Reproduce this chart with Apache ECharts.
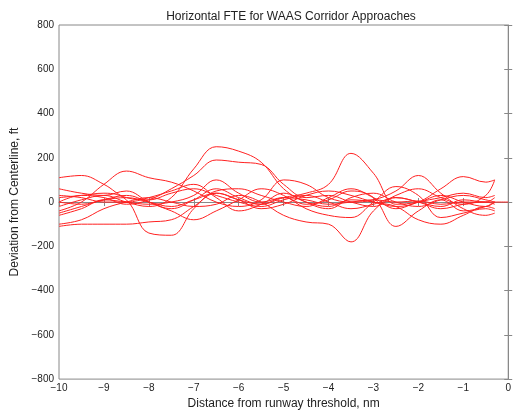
<!DOCTYPE html>
<html>
<head>
<meta charset="utf-8">
<script src="https://cdn.jsdelivr.net/npm/echarts@6/dist/echarts.min.js"></script>
<style>
  html, body { margin: 0; padding: 0; background: #fff; }
  #main { width: 514px; height: 415px; }
</style>
</head>
<body>
<div id="main"></div>
<script>
// distance from runway threshold (nm) shared by every run
var xs = [-10, -9.5, -9, -8.5, -8, -7.5, -7, -6.5, -6, -5.5, -5, -4.5, -4, -3.5, -3, -2.5, -2, -1.5, -1, -0.5, -0.3];

// deviation from centerline (ft), one array per approach
var run1 = [110, 120, 80, 20, 10, 40, 60, 30, 0, -20, 10, 30, 0, -30, -10, 20, 0, -20, 10, 0, 20];
var run2 = [-20, 10, 30, 0, -20, 20, 150, 250, 230, 180, 60, 0, -30, 20, 40, 0, -20, 10, 30, 10, 0];
var run3 = [0, 30, 20, -10, 10, 60, 120, 190, 180, 170, 80, 20, 30, 0, -20, 30, 60, 20, -10, 30, 100];
var run4 = [-50, -20, 10, 30, 0, -30, 10, 60, 20, -10, 20, 40, 80, 220, 130, -10, 0, 30, 0, -20, 0];
var run5 = [-100, -80, -30, 0, 20, 0, -20, -10, 30, 0, -60, -90, -100, -180, -40, 20, 0, -30, -10, 0, -10];
var run6 = [20, 30, 40, 10, -140, -150, -30, 50, 60, 30, 0, -20, 20, 60, 20, -30, 0, 20, 40, 20, 30];
var run7 = [-110, -100, -100, -100, -90, -80, -20, 40, 10, -30, -10, 30, 50, 30, 0, -20, -80, -100, -60, -20, -30];
var run8 = [-40, 0, 80, 140, 110, 90, 50, 0, -20, 10, 100, 80, 20, 0, 10, 50, 120, 40, -30, -60, -50];
var run9 = [30, 20, 0, 0, 20, 50, 80, 20, -40, -10, 40, 0, -20, 10, 0, -20, 0, 60, 115, 90, 100];
var run10 = [-60, -30, 10, 0, -10, 0, 30, 100, 40, 0, 20, -10, 10, 50, 20, -110, -40, 10, -40, -20, 0];
var run11 = [0, -10, 10, 20, 0, -20, 10, 40, 10, -10, 20, 10, -10, 0, 10, 0, 5, -10, 0, 0, 0];
var run12 = [60, 40, 30, 50, 0, -40, -80, -40, 10, 60, 30, -30, -60, -70, 0, 70, 30, -70, -50, -30, -40];

var runs = [run1, run2, run3, run4, run5, run6, run7, run8, run9, run10, run11, run12];

var xTicks = [-10, -9, -8, -7, -6, -5, -4, -3, -2, -1, 0];
var yTicks = [-800, -600, -400, -200, 0, 200, 400, 600, 800];

var series = runs.map(function (ys, i) {
  var pts = xs.map(function (x, j) { return [x, ys[j]]; });
  // one run keeps flying along the centreline to the threshold
  if (i === 10) pts.push([0, 0]);
  return {
    type: 'line',
    data: pts,
    smooth: 0.4,
    symbol: 'none',
    lineStyle: { color: '#ff2020', width: 1 },
    silent: true
  };
});

var chart = echarts.init(document.getElementById('main'));
var tickStyle = { inside: true, length: 4, lineStyle: { color: '#888' } };
var txt = { color: '#222', fontFamily: 'Liberation Sans' };
chart.setOption({
  animation: false,
  title: {
    text: 'Horizontal FTE for WAAS Corridor Approaches',
    left: 286, top: 6, textAlign: 'center',
    textStyle: { fontSize: 12, fontWeight: 'normal', color: '#222', fontFamily: 'Liberation Sans' }
  },
  grid: { left: 59, right: 2, top: 25, bottom: 32, show: true, borderColor: '#888', borderWidth: 1 },
  xAxis: [{
    type: 'value', min: -10, max: 0, interval: 1,
    name: 'Distance from runway threshold, nm',
    nameLocation: 'middle', nameGap: 15,
    nameTextStyle: Object.assign({ fontSize: 12 }, txt),
    axisLine: { lineStyle: { color: '#888' } },
    axisTick: tickStyle,
    splitLine: { show: false },
    axisLabel: Object.assign({ fontSize: 10, margin: 4,
      formatter: function (v) { return xTicks.indexOf(v) >= 0 ? String(v).replace('-', '\u2212') : ''; } }, txt)
  }, {
    type: 'value', min: -10, max: 0, interval: 1, position: 'top',
    axisLine: { show: false }, axisTick: tickStyle, axisLabel: { show: false }, splitLine: { show: false }
  }],
  yAxis: [{
    type: 'value', min: -800, max: 800, interval: 200,
    name: 'Deviation from Centerline, ft',
    nameLocation: 'middle', nameGap: 30,
    nameTextStyle: Object.assign({ fontSize: 12 }, txt),
    axisLine: { show: true, lineStyle: { color: '#888' } },
    axisTick: tickStyle,
    splitLine: { show: false },
    axisLabel: Object.assign({ fontSize: 10, margin: 5,
      formatter: function (v) { return yTicks.indexOf(v) >= 0 ? String(v).replace('-', '\u2212') : ''; } }, txt)
  }, {
    type: 'value', min: -800, max: 800, interval: 200, position: 'right',
    axisLine: { show: false }, axisTick: tickStyle, axisLabel: { show: false }, splitLine: { show: false }
  }],
  series: series
});
</script>
</body>
</html>
